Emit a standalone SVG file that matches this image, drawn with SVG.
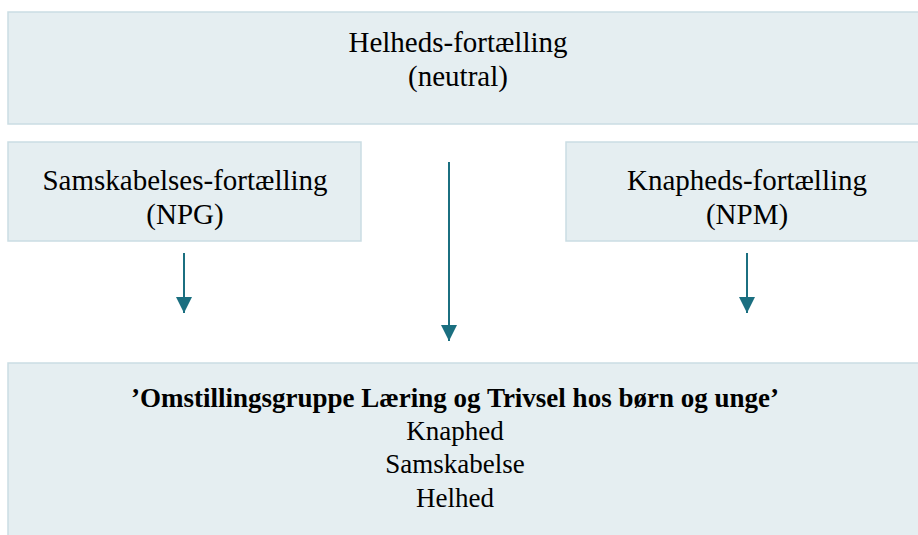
<svg xmlns="http://www.w3.org/2000/svg" width="918" height="535" viewBox="0 0 918 535">
  <style>
    .box { fill: #E5EEF1; stroke: #CADDE3; stroke-width: 1.5; }
    text { font-family: 'Liberation Serif', 'Times New Roman', Tinos, 'DejaVu Serif', serif; fill: #000; text-anchor: middle; }
    .label { font-size: 29px; }
    .body { font-size: 27px; }
    .bold { font-weight: bold; }
    .link { stroke: #1B6F80; stroke-width: 2; fill: none; marker-end: url(#head); }
  </style>
  <defs>
    <marker id="head" markerUnits="userSpaceOnUse" markerWidth="16" markerHeight="16" refX="16" refY="8" orient="auto">
      <path d="M0,0 L16,8 L0,16 Z" fill="#1B6F80"/>
    </marker>
  </defs>

  <rect width="918" height="535" fill="#FFFFFF"/>

  <g id="helhed">
    <rect class="box" x="8" y="12" width="915" height="112"/>
    <text class="label" x="458" y="52">Helheds-fortælling</text>
    <text class="label" x="458" y="86">(neutral)</text>
  </g>

  <g id="samskabelse">
    <rect class="box" x="8" y="142" width="353" height="99"/>
    <text class="label" x="185" y="190">Samskabelses-fortælling</text>
    <text class="label" x="185" y="224">(NPG)</text>
  </g>

  <g id="knaphed">
    <rect class="box" x="566" y="142" width="357" height="99"/>
    <text class="label" x="747" y="190">Knapheds-fortælling</text>
    <text class="label" x="747" y="224">(NPM)</text>
  </g>

  <g id="omstillingsgruppe">
    <rect class="box" x="8" y="363" width="915" height="180"/>
    <text class="body bold" x="455" y="407">’Omstillingsgruppe Læring og Trivsel hos børn og unge’</text>
    <text class="body" x="455" y="440">Knaphed</text>
    <text class="body" x="455" y="473">Samskabelse</text>
    <text class="body" x="455" y="507">Helhed</text>
  </g>

  <g id="connectors">
    <line class="link" x1="184" y1="253" x2="184" y2="313"/>
    <line class="link" x1="449" y1="162" x2="449" y2="341"/>
    <line class="link" x1="747" y1="253" x2="747" y2="313"/>
  </g>
</svg>
